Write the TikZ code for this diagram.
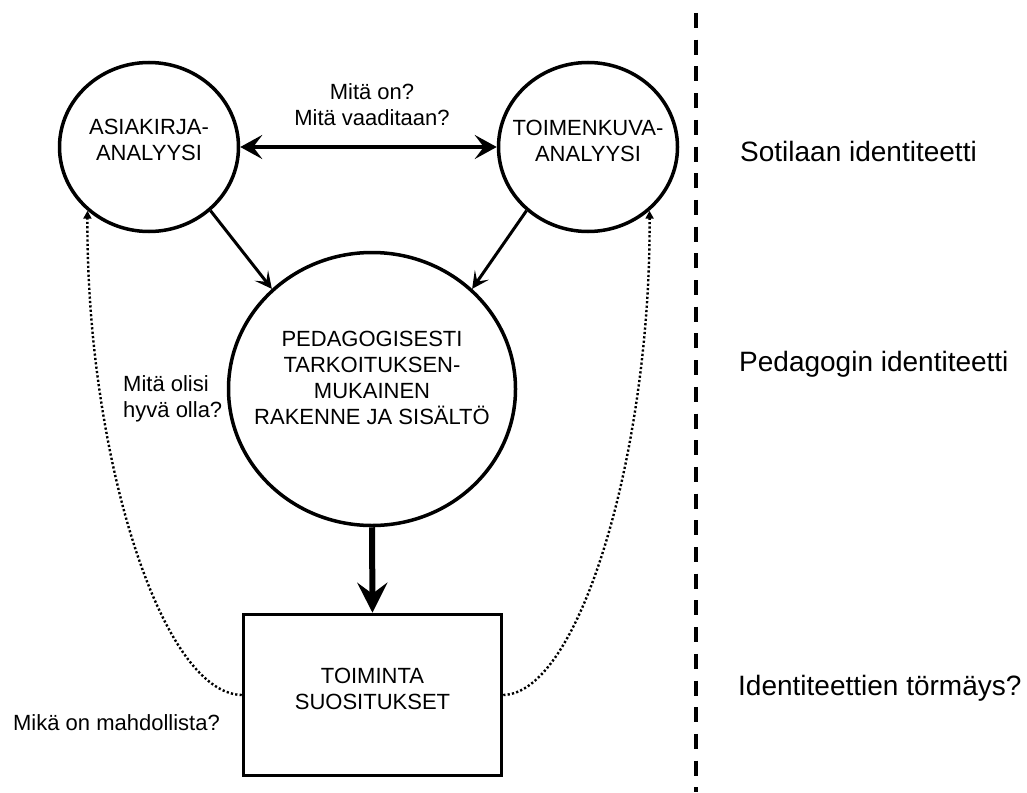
\documentclass[tikz,border=0pt]{standalone}
\usepackage{fontspec}
\setmainfont{Liberation Sans}
\usetikzlibrary{arrows.meta,shapes.geometric}
\begin{document}
\begin{tikzpicture}[x=1pt,y=-1pt,
  font=\fontsize{22pt}{26pt}\selectfont,
  circ/.style={ellipse, draw, line width=3.5pt, inner sep=0pt, minimum width=179pt, minimum height=169pt},
  bigc/.style={ellipse, draw, line width=3.5pt, inner sep=0pt, minimum width=287pt, minimum height=273pt},
  box/.style={rectangle, draw, line width=3.5pt, inner sep=0pt, minimum width=258pt, minimum height=161pt},
  inlbl/.style={align=center, inner sep=0pt},
  side/.style={anchor=base west, inner sep=0pt, font=\fontsize{28pt}{33pt}\selectfont},
  q/.style={align=center, inner sep=0pt},
  dbl/.style={line width=4.5pt, {Stealth[length=22pt,width=24pt,inset=9pt]}-{Stealth[length=22pt,width=24pt,inset=9pt]}},
  feed/.style={line width=3pt, -{Stealth[length=17pt,width=17pt,inset=8pt]}},
  mainarrow/.style={line width=6pt, -{Stealth[length=30pt,width=30pt,inset=11pt]}},
  dots/.style={line width=2.4pt, black, dash pattern=on 2.2pt off 2.2pt, -{Triangle[length=8pt,width=8pt]}},
  divider/.style={line width=4pt, dash pattern=on 15pt off 11.7pt}
]
\useasboundingbox (0,0) rectangle (1027,792);

% nodes
\node[circ, label={[inlbl,yshift=7pt]center:{ASIAKIRJA-\\ANALYYSI}}] (c1) at (149,147) {};
\node[circ, label={[inlbl,yshift=6pt]center:{TOIMENKUVA-\\ANALYYSI}}] (c2) at (588,147) {};
\node[bigc, label={[inlbl,yshift=11pt]center:{PEDAGOGISESTI\\TARKOITUKSEN-\\MUKAINEN\\RAKENNE JA SIS\"ALT\"O}}] (big) at (372,389) {};
\node[box, label={[inlbl,yshift=6.5pt]center:{TOIMINTA\\SUOSITUKSET}}] (rec) at (372.5,695) {};

% question labels
\node[q] (q1) at (372,104.5) {Mitä on?\\Mitä vaaditaan?};
\node[q, align=left, anchor=west] (q2) at (123,398.5) {Mitä olisi\\hyvä olla?};
\node[q] (q3) at (116.5,723) {Mikä on mahdollista?};

% side labels
\node[side] (s1) at (740,161.7) {Sotilaan identiteetti};
\node[side] (s2) at (739,371.7) {Pedagogin identiteetti};
\node[side] (s3) at (738,695) {Identiteettien törmäys?};

% divider
\coordinate (dtop) at (695.5,13);
\coordinate (dbot) at (695.5,792);
\draw[divider] (dtop) -- (dbot);

% connectors
\draw[dbl] (c1.east) -- (c2.west);
\draw[feed] (c1.-46) -- (big.135);
\draw[feed] (c2.-134) -- (big.45);
\draw[mainarrow] (big.south) -- (rec.north);
\draw[dots] (rec.west) .. controls (160,693) and (86,450) .. (c1.-134);
\draw[dots] (rec.east) .. controls (580,693) and (651,450) .. (c2.-46);
\end{tikzpicture}
\end{document}
